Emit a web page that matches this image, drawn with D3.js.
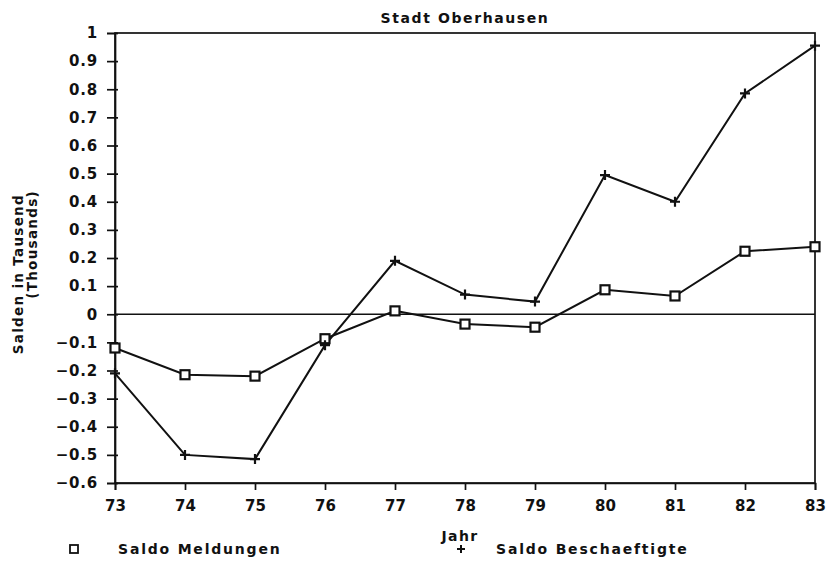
<!DOCTYPE html>
<html>
<head>
<meta charset="utf-8">
<script src="https://cdn.jsdelivr.net/npm/d3@7"></script>
<style>
  html, body { margin: 0; padding: 0; background: #fff; }
  svg { display: block; }
  text { font-family: "DejaVu Sans", sans-serif; font-weight: bold; fill: #111; }
</style>
</head>
<body>
<svg id="chart" width="830" height="561"></svg>
<script>
// Jahre (x categories)
const years = [73, 74, 75, 76, 77, 78, 79, 80, 81, 82, 83];
// Saldo Meldungen, in Tausend
const saldoMeldungen = [-0.12, -0.215, -0.22, -0.087, 0.012, -0.035, -0.046, 0.087, 0.065, 0.224, 0.240];
// Saldo Beschaeftigte, in Tausend
const saldoBeschaeftigte = [-0.21, -0.50, -0.515, -0.11, 0.19, 0.07, 0.045, 0.495, 0.40, 0.785, 0.955];
// y-axis tick values
const yTicks = [-0.6, -0.5, -0.4, -0.3, -0.2, -0.1, 0, 0.1, 0.2, 0.3, 0.4, 0.5, 0.6, 0.7, 0.8, 0.9, 1];

const svg = d3.select("#chart");
const ink = "#111";

const x = d3.scaleLinear().domain([73, 83]).range([115, 815]);
const y = d3.scaleLinear().domain([-0.6, 1]).range([483, 33]);

// frame
svg.append("rect")
  .attr("x", x(73)).attr("y", y(1))
  .attr("width", x(83) - x(73)).attr("height", y(-0.6) - y(1))
  .attr("fill", "none").attr("stroke", ink).attr("stroke-width", 1.7);

// zero line
svg.append("line")
  .attr("x1", x(73)).attr("x2", x(83))
  .attr("y1", y(0)).attr("y2", y(0))
  .attr("stroke", ink).attr("stroke-width", 1.6);

const fmt = v => {
  if (v === 0) return "0";
  if (v === 1) return "1";
  const s = d3.format(".1f")(Math.abs(v));
  return (v < 0 ? "\u2212" : "") + s;
};

// y axis
const yAxis = svg.append("g")
  .attr("transform", `translate(${x(73)},0)`)
  .call(d3.axisLeft(y).tickValues(yTicks).tickFormat(fmt).tickSize(8).tickPadding(9));
yAxis.select(".domain").attr("stroke", ink).attr("stroke-width", 1.7);
yAxis.selectAll(".tick line").attr("stroke", ink).attr("stroke-width", 1.7).attr("x2", -8).attr("x1", 3);
yAxis.selectAll(".tick text")
  .attr("font-size", 15).attr("font-family", "DejaVu Sans").attr("font-weight", "bold")
  .attr("letter-spacing", "0.8px").attr("fill", ink);

// x axis
const xAxis = svg.append("g")
  .attr("transform", `translate(0,${y(-0.6)})`)
  .call(d3.axisBottom(x).tickValues(years).tickFormat(d3.format("d")).tickSize(7).tickPadding(10));
xAxis.select(".domain").attr("stroke", ink).attr("stroke-width", 1.7);
xAxis.selectAll(".tick line").attr("stroke", ink).attr("stroke-width", 1.7);
xAxis.selectAll(".tick text")
  .attr("font-size", 15).attr("font-family", "DejaVu Sans").attr("font-weight", "bold")
  .attr("fill", ink);

// series lines
const line = d3.line().x((d, i) => x(years[i])).y(d => y(d));

svg.append("path").datum(saldoBeschaeftigte)
  .attr("d", line).attr("fill", "none").attr("stroke", ink).attr("stroke-width", 2);
svg.append("path").datum(saldoMeldungen)
  .attr("d", line).attr("fill", "none").attr("stroke", ink).attr("stroke-width", 2);

// markers: squares for Meldungen
svg.append("g").selectAll("rect").data(saldoMeldungen).join("rect")
  .attr("x", (d, i) => x(years[i]) - 4.5).attr("y", d => y(d) - 4.5)
  .attr("width", 9).attr("height", 9)
  .attr("fill", "#fff").attr("stroke", ink).attr("stroke-width", 2.2);

// markers: plus for Beschaeftigte
svg.append("g").selectAll("path").data(saldoBeschaeftigte).join("path")
  .attr("transform", (d, i) => `translate(${x(years[i])},${y(d)})`)
  .attr("d", "M-5,0H5M0,-5V5")
  .attr("stroke", ink).attr("stroke-width", 2.2).attr("fill", "none");

// titles
svg.append("text").attr("x", 465).attr("y", 23).attr("text-anchor", "middle")
  .attr("font-size", 14).attr("letter-spacing", "1.6px").text("Stadt Oberhausen");

svg.append("text").attr("transform", "translate(23,194) rotate(-90)")
  .attr("text-anchor", "end").attr("font-size", 13.5).attr("letter-spacing", "1.3px")
  .text("Salden in Tausend");
svg.append("text").attr("transform", "translate(37,190) rotate(-90)")
  .attr("text-anchor", "end").attr("font-size", 13.5).attr("letter-spacing", "1.3px")
  .text("(Thousands)");

svg.append("text").attr("x", 460).attr("y", 541).attr("text-anchor", "middle")
  .attr("font-size", 14).attr("letter-spacing", "1.4px").text("Jahr");

// legend
svg.append("rect").attr("x", 70).attr("y", 545).attr("width", 8).attr("height", 8)
  .attr("fill", "#fff").attr("stroke", ink).attr("stroke-width", 1.8);
svg.append("text").attr("x", 118).attr("y", 554).attr("font-size", 14)
  .attr("letter-spacing", "1.8px").text("Saldo Meldungen");
svg.append("path").attr("transform", "translate(461,549)").attr("d", "M-4,0H4M0,-4V4")
  .attr("stroke", ink).attr("stroke-width", 2);
svg.append("text").attr("x", 496).attr("y", 554).attr("font-size", 14)
  .attr("letter-spacing", "1.8px").text("Saldo Beschaeftigte");
</script>
</body>
</html>
